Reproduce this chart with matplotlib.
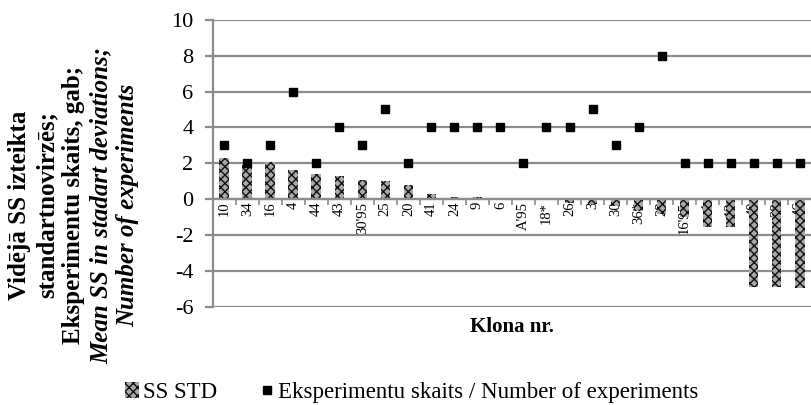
import numpy as np
import matplotlib.pyplot as plt

plt.rcParams['font.family'] = ['Liberation Serif', 'DejaVu Serif']
plt.rcParams['hatch.linewidth'] = 1.0
plt.rcParams['axes.unicode_minus'] = False

## clone labels (x axis)
klonas = ["10", "34", "16", "4", "44", "43", "30'95", "25", "20", "41", "24", "9", "6",
          "A'95", "18*", "26", "3", "30", "36*", "28", "16'95", "1", "12", "40", "39", "46"]

## mean SS in standard deviations
ss_std = [2.3, 1.9, 2.05, 1.63, 1.4, 1.29, 1.07, 1.02, 0.76, 0.28, 0.13, 0.1, 0.05,
          -0.02, -0.05, -0.2, -0.3, -0.4, -0.65, -0.85, -1.0, -1.55, -1.55, -4.9, -4.9, -4.95]

## number of experiments
eksp = [3, 2, 3, 6, 2, 4, 3, 5, 2, 4, 4, 4, 4, 2, 4, 4, 5, 3, 4, 8, 2, 2, 2, 2, 2, 2]

x = np.arange(len(klonas))
grid_c = "#8c8c8c"

fig = plt.figure(figsize=(8.12, 4.05), dpi=100)
ax = fig.add_axes([0.262, 0.243, 0.737, 0.708])

bars = ax.bar(x, ss_std, width=0.42, color="#a8a8a8", edgecolor="#111111",
              hatch="xxxx", linewidth=0, label="SS STD", zorder=2)
pts, = ax.plot(x, eksp, "s", color="black", markersize=6, linestyle="none",
               label="Eksperimentu skaits / Number of experiments", zorder=3)

ax.set_xlim(-0.5, len(klonas) - 0.5)
ax.set_ylim(-6, 10)
ax.set_yticks(range(-6, 11, 2))
ax.yaxis.grid(True, color=grid_c, linewidth=1.6, zorder=0)
ax.set_axisbelow(True)

for s in ["top", "right"]:
    ax.spines[s].set_visible(False)
ax.spines["left"].set_color(grid_c)
ax.spines["left"].set_linewidth(1.6)
ax.spines["bottom"].set_position(("data", 0))
ax.spines["bottom"].set_color(grid_c)
ax.spines["bottom"].set_linewidth(1.6)

ax.set_xticks(x)
ax.set_xticklabels(klonas, rotation=90, fontsize=10.5)
ax.tick_params(axis="x", length=0, pad=2)
ax.set_xticks(x[:-1] + 0.5, minor=True)
ax.tick_params(axis="x", which="minor", length=4, color=grid_c, width=1.2)
ax.tick_params(axis="y", labelsize=16, length=6, color=grid_c, width=1.6, pad=8)

ax.set_xlabel("Klona nr.", fontsize=15, fontweight="bold")
ax.xaxis.set_label_coords(0.5, -0.035, transform=ax.transAxes)

## y label, five rotated lines
lines = [("Vidējā SS izteikta", "normal", 20),
         ("standartnovirzēs;", "normal", 47),
         ("Eksperimentu skaits, gab;", "normal", 74),
         ("Mean SS in stadart deviations;", "italic", 101),
         ("Number of experiments", "italic", 128)]
for txt, st, xp in lines:
    fig.text(xp / 812, 1 - 205 / 405, txt, rotation=90, ha="center", va="center",
             fontsize=18, fontweight="bold", style=st)

fig.legend(handles=[bars, pts], loc="center", bbox_to_anchor=(0.507, 0.03), ncol=2,
           frameon=False, fontsize=16.5, handlelength=0.6, handletextpad=0.2,
           columnspacing=1.85, markerscale=0.9)

plt.savefig("out.png")
